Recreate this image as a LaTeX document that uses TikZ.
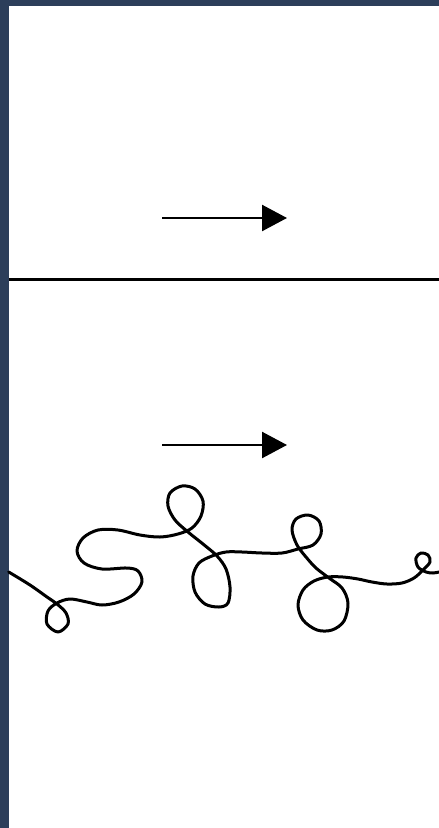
\documentclass[tikz,border=0pt]{standalone}
\usetikzlibrary{arrows.meta}
\definecolor{navy}{HTML}{2C3E5A}
\begin{document}
\begin{tikzpicture}[x=1pt,y=-1pt,
  flowarrow/.style={line width=2.4pt,-{Triangle[length=25pt,width=26pt]}},
  divider/.style={line width=3pt},
  strand/.style={line width=3pt,line cap=round,line join=round}]
\useasboundingbox (0,0) rectangle (439,828);
\fill[navy] (0,0) rectangle (439,828);
\fill[white] (8.7,5.7) rectangle (439,828);
% top arrow
\coordinate (a1s) at (162,218);
\coordinate (a1e) at (287,218);
\draw[flowarrow] (a1s) -- (a1e);
% divider
\coordinate (dl) at (8.7,279);
\coordinate (dr) at (439,279);
\draw[divider] (dl) -- (dr);
% lower arrow
\coordinate (a2s) at (162,445);
\coordinate (a2e) at (287,445);
\draw[flowarrow] (a2s) -- (a2e);
% tangled strand
\draw[strand] plot[smooth,tension=0.55] coordinates {
 (8.7,572) (30,585) (47,597) (57,604) (66,613) (68,624) (58,632) (47,624) (48,611) (57,603)
 (70,599) (87,602) (102,605) (119,602) (134,594) (142,582) (138,571) (127,568)
 (102,569) (84,563) (77,551) (83,538) (98,530) (118,530) (140,535) (160,537)
 (178,534) (192,528) (201,516) (203,501) (195,489) (182,486) (170,493) (168,506)
 (175,520) (188,532) (203,544) (217,556) (226,569) (230,587) (228,603) (219,607)
 (205,604) (195,592) (193,576) (199,563) (212,556) (226,552) (242,552) (262,553)
 (282,553) (298,549) (313,545) (321,534) (319,521) (308,515) (296,519) (292,530)
 (297,545) (306,557) (316,568) (329,578) (342,588) (348,603) (344,621) (332,630)
 (317,630) (303,620) (298,605) (303,590) (314,581) (328,577) (343,577) (358,579)
 (372,582) (387,584) (402,583) (414,578) (423,570) (430,562) (428,555) (421,553)
 (416,558) (418,567) (426,572) (433,573) (439,572)};
\end{tikzpicture}
\end{document}
